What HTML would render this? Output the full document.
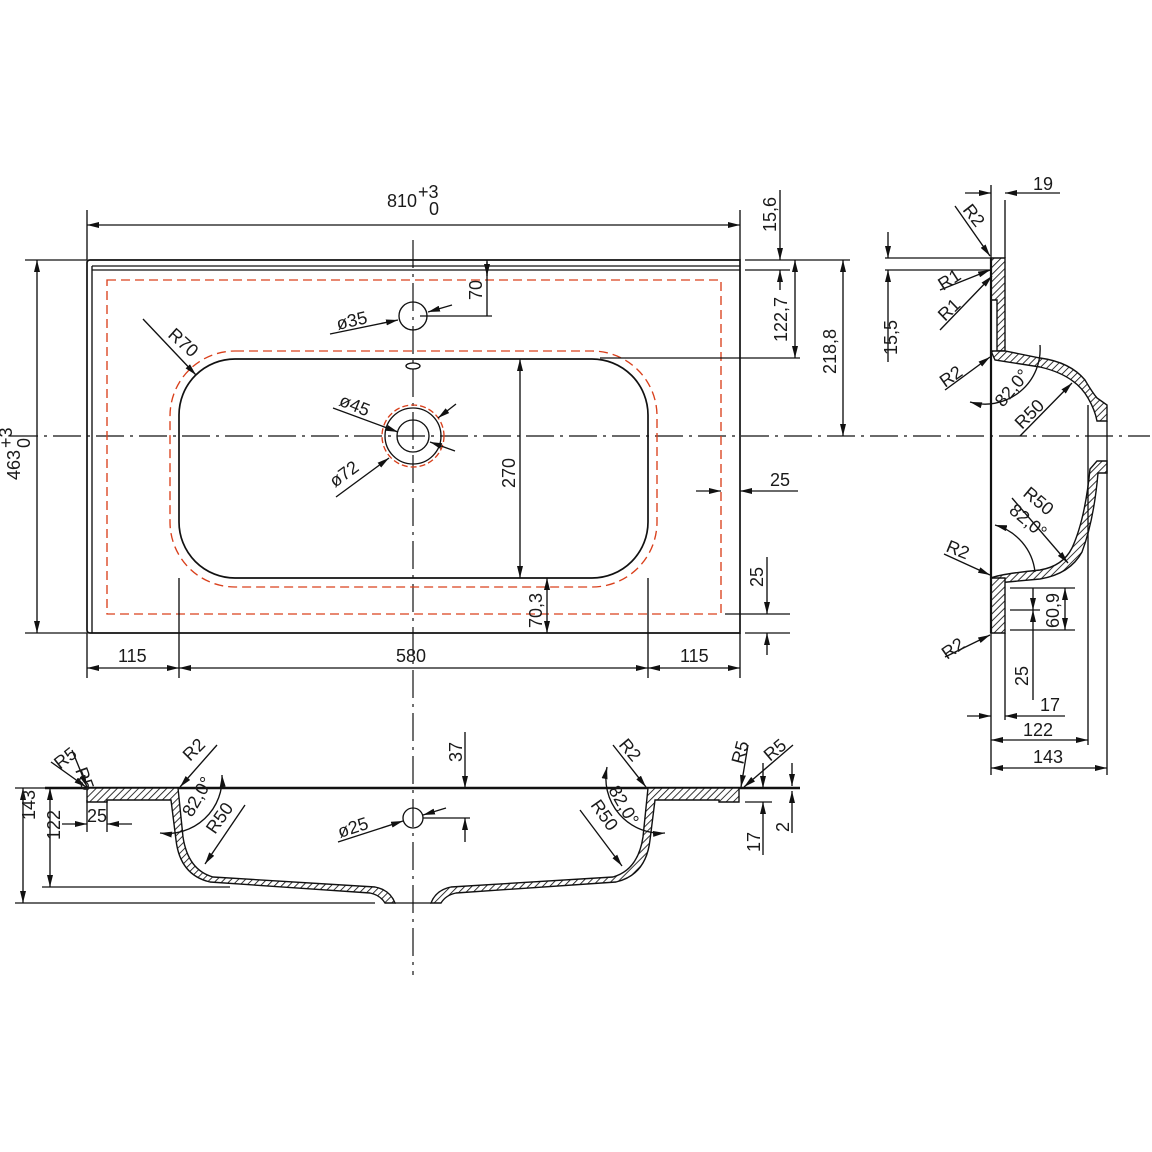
<!DOCTYPE html>
<html><head><meta charset="utf-8"><style>
html,body{margin:0;padding:0;background:#fff}
svg{display:block}
text{font-family:"Liberation Sans",sans-serif;font-size:18px;fill:#1a1a1a}
</style></head><body>
<svg width="1152" height="1152" viewBox="0 0 1152 1152" xmlns="http://www.w3.org/2000/svg">
<defs>
<marker id="a" viewBox="0 0 12 6" refX="12" refY="3" markerWidth="12" markerHeight="6" orient="auto-start-reverse" markerUnits="userSpaceOnUse"><path d="M0,0L12,3L0,6z" fill="#111"/></marker>
<pattern id="h" width="5" height="5" patternUnits="userSpaceOnUse" patternTransform="rotate(45)"><rect width="5" height="5" fill="#fff"/><line x1="0" y1="0" x2="0" y2="5" stroke="#111" stroke-width="1.7"/></pattern>
</defs>
<g fill="none" stroke="#111" stroke-width="1.35">
<g stroke-dasharray="28,6,3,6" stroke-width="1.2">
<line x1="413" y1="240" x2="413" y2="975"/>
<line x1="10" y1="436" x2="1150" y2="436"/>
</g>
<path d="M90,260 H740 V633 H90 Q87,633 87,630 V263 Q87,260 90,260Z" stroke-width="1.7"/>
<line x1="92" y1="266" x2="740" y2="266"/><line x1="92" y1="270" x2="740" y2="270"/>
<line x1="92" y1="266" x2="92" y2="633"/>
<rect x="107" y="280" width="614" height="334" stroke="#d9401c" stroke-dasharray="9,5"/>
<rect x="170" y="351" width="487" height="236" rx="65" stroke="#d9401c" stroke-dasharray="9,5"/>
<rect x="179" y="359" width="469" height="219" rx="56" stroke-width="1.7"/>
<circle cx="413" cy="316" r="14"/>
<ellipse cx="413" cy="366" rx="7" ry="3"/>
<circle cx="413" cy="436" r="16"/><circle cx="413" cy="436" r="28"/>
<circle cx="413" cy="436" r="31" stroke="#d9401c" stroke-dasharray="6,3"/>
<line x1="87" y1="210" x2="87" y2="260"/><line x1="740" y1="210" x2="740" y2="260"/>
<line x1="87" y1="225" x2="740" y2="225" marker-start="url(#a)" marker-end="url(#a)"/>
<line x1="25" y1="260" x2="87" y2="260"/><line x1="25" y1="633" x2="87" y2="633"/>
<line x1="37" y1="260" x2="37" y2="633" marker-start="url(#a)" marker-end="url(#a)"/>
<line x1="87" y1="633" x2="87" y2="678"/><line x1="179" y1="578" x2="179" y2="678"/><line x1="648" y1="578" x2="648" y2="678"/><line x1="740" y1="633" x2="740" y2="678"/>
<line x1="87" y1="668" x2="179" y2="668" marker-start="url(#a)" marker-end="url(#a)"/>
<line x1="179" y1="668" x2="648" y2="668" marker-start="url(#a)" marker-end="url(#a)"/>
<line x1="648" y1="668" x2="740" y2="668" marker-start="url(#a)" marker-end="url(#a)"/>
<line x1="420" y1="316" x2="492" y2="316"/><line x1="487" y1="260" x2="487" y2="316"/>
<line x1="487" y1="262" x2="487" y2="276" marker-end="url(#a)"/>
<line x1="745" y1="260" x2="850" y2="260"/><line x1="745" y1="270" x2="790" y2="270"/>
<line x1="780" y1="190" x2="780" y2="260" marker-end="url(#a)"/><line x1="780" y1="290" x2="780" y2="270" marker-end="url(#a)"/>
<line x1="600" y1="358" x2="800" y2="358"/>
<line x1="795" y1="260" x2="795" y2="358" marker-start="url(#a)" marker-end="url(#a)"/>
<line x1="843" y1="260" x2="843" y2="436" marker-start="url(#a)" marker-end="url(#a)"/>
<line x1="520" y1="359" x2="520" y2="578" marker-start="url(#a)" marker-end="url(#a)"/>
<line x1="547" y1="578" x2="547" y2="633" marker-start="url(#a)" marker-end="url(#a)"/>
<line x1="696" y1="491" x2="721" y2="491" marker-end="url(#a)"/><line x1="798" y1="491" x2="740" y2="491" marker-end="url(#a)"/>
<line x1="725" y1="614" x2="790" y2="614"/><line x1="745" y1="633" x2="790" y2="633"/>
<line x1="767" y1="557" x2="767" y2="614" marker-end="url(#a)"/><line x1="767" y1="655" x2="767" y2="633" marker-end="url(#a)"/>
<line x1="330" y1="334" x2="398" y2="320" marker-end="url(#a)"/><line x1="452" y1="305" x2="428" y2="312" marker-end="url(#a)"/>
<line x1="333" y1="408" x2="398" y2="432" marker-end="url(#a)"/><line x1="455" y1="451" x2="430" y2="442" marker-end="url(#a)"/>
<line x1="336" y1="497" x2="389" y2="458" marker-end="url(#a)"/><line x1="456" y1="404" x2="438" y2="418" marker-end="url(#a)"/>
<line x1="143" y1="319" x2="196" y2="375" marker-end="url(#a)"/>
<g fill="url(#h)" stroke-width="1.4">
<path d="M991,258 H1005 V351 H997 V300 H991Z"/>
<path d="M991,351 L997,351 L1005,351 L1040,358 Q1070,362 1085,380 Q1092,392 1097,398 L1107,405 V421 H1097 Q1095,410 1088,398 Q1075,375 1040,367 L995,360Z"/>
<path d="M1097,461 H1107 V473 H1098 Q1094,520 1082,552 Q1070,574 1040,579 L997,583 L991,578 Q1000,574 1040,570 Q1063,566 1072,548 Q1085,520 1090,469Z"/>
<path d="M991,578 H1005 V633 H991Z"/>
</g>
<line x1="991" y1="258" x2="991" y2="633" stroke-width="2.2"/>
<line x1="1088" y1="405" x2="1088" y2="745"/><line x1="1107" y1="421" x2="1107" y2="775"/>
<line x1="991" y1="633" x2="991" y2="775"/><line x1="1005" y1="200" x2="1005" y2="258"/><line x1="1005" y1="633" x2="1005" y2="720"/><line x1="991" y1="185" x2="991" y2="258"/>
<line x1="965" y1="193" x2="991" y2="193" marker-end="url(#a)"/><line x1="1060" y1="193" x2="1005" y2="193" marker-end="url(#a)"/>
<line x1="967" y1="716" x2="991" y2="716" marker-end="url(#a)"/><line x1="1065" y1="716" x2="1005" y2="716" marker-end="url(#a)"/>
<line x1="991" y1="740" x2="1088" y2="740" marker-start="url(#a)" marker-end="url(#a)"/>
<line x1="991" y1="768" x2="1107" y2="768" marker-start="url(#a)" marker-end="url(#a)"/>
<line x1="885" y1="258" x2="991" y2="258"/><line x1="885" y1="270" x2="991" y2="270"/>
<line x1="888" y1="232" x2="888" y2="258" marker-end="url(#a)"/><line x1="888" y1="362" x2="888" y2="270" marker-end="url(#a)"/>
<line x1="1010" y1="588" x2="1075" y2="588"/><line x1="1010" y1="630" x2="1075" y2="630"/><line x1="1010" y1="610" x2="1040" y2="610"/>
<line x1="1065" y1="588" x2="1065" y2="630" marker-start="url(#a)" marker-end="url(#a)"/>
<line x1="1033" y1="588" x2="1033" y2="610" marker-end="url(#a)"/><line x1="1033" y1="700" x2="1033" y2="610" marker-end="url(#a)"/>
<line x1="955" y1="206" x2="990" y2="256" marker-end="url(#a)"/>
<line x1="940" y1="290" x2="990" y2="270" marker-end="url(#a)"/>
<line x1="940" y1="330" x2="992" y2="276" marker-end="url(#a)"/>
<line x1="945" y1="390" x2="990" y2="357" marker-end="url(#a)"/>
<line x1="1020" y1="436" x2="1072" y2="383" marker-end="url(#a)"/>
<line x1="944" y1="554" x2="990" y2="575" marker-end="url(#a)"/>
<line x1="945" y1="657" x2="990" y2="635" marker-end="url(#a)"/>
<line x1="1012" y1="498" x2="1068" y2="563" marker-end="url(#a)"/>
<path d="M1040,345 A55,55 0 0 1 970,402" marker-end="url(#a)"/>
<path d="M995,525 A55,55 0 0 1 1035,572" marker-start="url(#a)"/>
<line x1="45" y1="788" x2="800" y2="788" stroke-width="2.4"/>
<g fill="url(#h)" stroke-width="1.4">
<path d="M87,788 H178 L183,837 Q188,870 213,877 L375,887 Q390,890 395,903 H385 Q380,895 370,893 L210,882 Q180,875 176,840 L171,800 H107 V802 H87Z"/>
<path d="M739,788 H648 L643,837 Q638,870 613,877 L451,887 Q436,890 431,903 H441 Q446,895 456,893 L616,882 Q646,875 650,840 L655,800 H719 V802 H739Z"/>
</g>
<line x1="395" y1="903" x2="431" y2="903"/>
<circle cx="413" cy="818" r="10"/>
<line x1="15" y1="903" x2="375" y2="903"/><line x1="42" y1="887" x2="230" y2="887"/><line x1="15" y1="788" x2="87" y2="788"/>
<line x1="23" y1="788" x2="23" y2="903" marker-start="url(#a)" marker-end="url(#a)"/>
<line x1="50" y1="788" x2="50" y2="887" marker-start="url(#a)" marker-end="url(#a)"/>
<line x1="87" y1="800" x2="87" y2="832"/><line x1="107" y1="800" x2="107" y2="832"/>
<line x1="62" y1="824" x2="87" y2="824" marker-end="url(#a)"/><line x1="132" y1="824" x2="107" y2="824" marker-end="url(#a)"/>
<line x1="423" y1="818" x2="470" y2="818"/>
<line x1="465" y1="732" x2="465" y2="788" marker-end="url(#a)"/><line x1="465" y1="842" x2="465" y2="818" marker-end="url(#a)"/>
<line x1="338" y1="842" x2="403" y2="821" marker-end="url(#a)"/><line x1="446" y1="808" x2="423" y2="815" marker-end="url(#a)"/>
<line x1="51" y1="762" x2="86" y2="787" marker-end="url(#a)"/><line x1="72" y1="750" x2="87" y2="787" marker-end="url(#a)"/>
<line x1="217" y1="745" x2="180" y2="787" marker-end="url(#a)"/>
<line x1="245" y1="805" x2="205" y2="864" marker-end="url(#a)"/>
<path d="M222,775 A55,55 0 0 1 160,833" marker-start="url(#a)" marker-end="url(#a)"/>
<line x1="613" y1="745" x2="646" y2="787" marker-end="url(#a)"/>
<line x1="580" y1="810" x2="622" y2="866" marker-end="url(#a)"/>
<path d="M607,767 A55,55 0 0 0 665,833" marker-start="url(#a)" marker-end="url(#a)"/>
<line x1="748" y1="745" x2="741" y2="787" marker-end="url(#a)"/><line x1="793" y1="745" x2="744" y2="787" marker-end="url(#a)"/>
<line x1="745" y1="802" x2="772" y2="802"/>
<line x1="763" y1="763" x2="763" y2="788" marker-end="url(#a)"/><line x1="763" y1="855" x2="763" y2="802" marker-end="url(#a)"/>
<line x1="792" y1="763" x2="792" y2="786" marker-end="url(#a)"/><line x1="792" y1="833" x2="792" y2="791" marker-end="url(#a)"/>
</g>
<text x="387" y="207">810</text><text x="418" y="198" font-size="14">+3</text><text x="429" y="215" font-size="14">0</text>
<g transform="translate(20,480) rotate(-90)"><text>463</text><text x="32" y="-8" font-size="14">+3</text><text x="32" y="10" font-size="14">0</text></g>
<text x="118" y="662">115</text><text x="396" y="662">580</text><text x="680" y="662">115</text>
<text x="770" y="486">25</text>
<text transform="translate(776,232) rotate(-90)">15,6</text>
<text transform="translate(787,342) rotate(-90)">122,7</text>
<text transform="translate(836,374) rotate(-90)">218,8</text>
<text transform="translate(515,488) rotate(-90)">270</text>
<text transform="translate(482,300) rotate(-90)">70</text>
<text transform="translate(542,628) rotate(-90)">70,3</text>
<text transform="translate(763,587) rotate(-90)">25</text>
<text transform="translate(338,330) rotate(-13)">ø35</text>
<text transform="translate(338,405) rotate(22)">ø45</text>
<text transform="translate(335,488) rotate(-36)">ø72</text>
<text transform="translate(167,336) rotate(42)" font-family="Liberation Serif" font-size="14">R70</text>
<text x="1033" y="190">19</text>
<text transform="translate(897,355) rotate(-90)">15,5</text>
<text x="1040" y="711">17</text><text x="1023" y="736">122</text><text x="1033" y="763">143</text>
<text transform="translate(1059,628) rotate(-90)">60,9</text>
<text transform="translate(1028,686) rotate(-90)">25</text>
<text transform="translate(962,210) rotate(52)">R2</text>
<text transform="translate(943,291) rotate(-33)">R1</text>
<text transform="translate(945,322) rotate(-44)">R1</text>
<text transform="translate(945,388) rotate(-35)">R2</text>
<text transform="translate(1003,408) rotate(-50)">82,0°</text>
<text transform="translate(1022,430) rotate(-45)">R50</text>
<text transform="translate(1022,495) rotate(40)">R50</text>
<text transform="translate(1008,512) rotate(40)">82,0°</text>
<text transform="translate(945,551) rotate(22)">R2</text>
<text transform="translate(947,660) rotate(-35)">R2</text>
<text transform="translate(35,820) rotate(-90)">143</text>
<text transform="translate(60,840) rotate(-90)">122</text>
<text x="87" y="822" font-size="16">25</text>
<text transform="translate(462,762) rotate(-90)">37</text>
<text transform="translate(340,838) rotate(-18)">ø25</text>
<text transform="translate(60,770) rotate(-38)" font-size="13">R5</text>
<text transform="translate(75,770) rotate(70)" font-size="13">R5</text>
<text transform="translate(190,762) rotate(-45)">R2</text>
<text transform="translate(192,818) rotate(-60)">82,0°</text>
<text transform="translate(215,835) rotate(-55)">R50</text>
<text transform="translate(618,745) rotate(50)">R2</text>
<text transform="translate(608,790) rotate(60)">82,0°</text>
<text transform="translate(590,805) rotate(55)">R50</text>
<text transform="translate(743,765) rotate(-75)" font-size="13">R5</text>
<text transform="translate(770,762) rotate(-40)" font-size="13">R5</text>
<text transform="translate(760,852) rotate(-90)">17</text>
<text transform="translate(789,832) rotate(-90)">2</text>
</svg>
</body></html>
